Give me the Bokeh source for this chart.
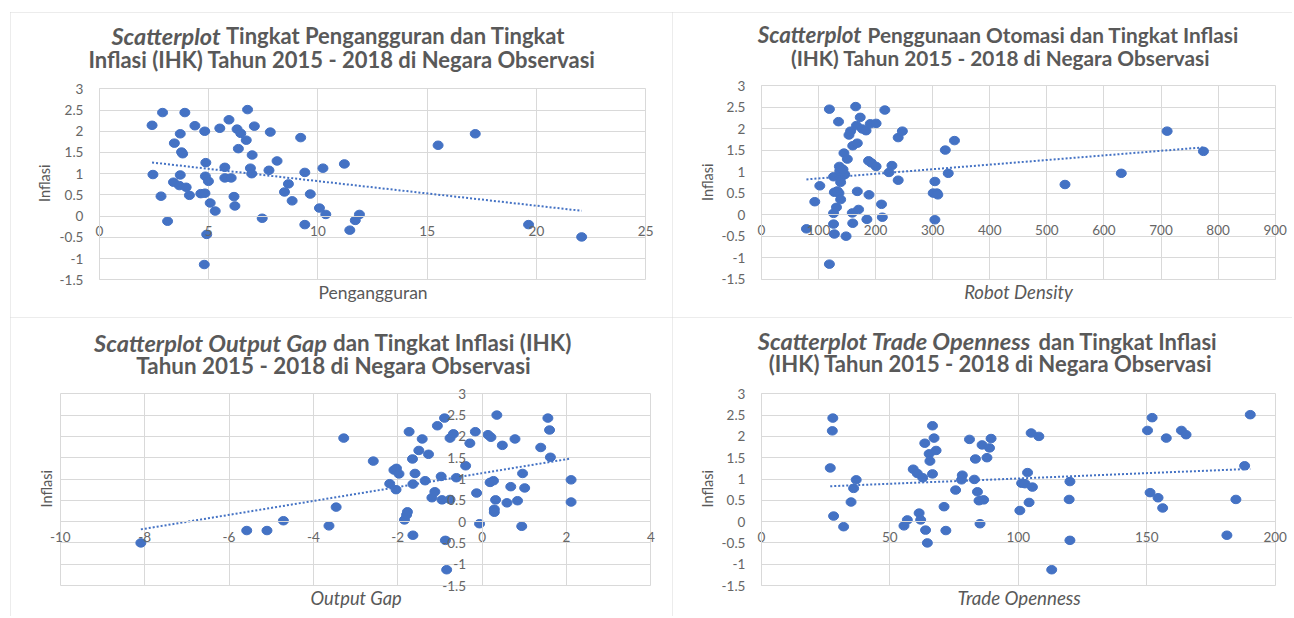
import math
import numpy as np
from bokeh.plotting import figure
from bokeh.models import Label, SingleIntervalTicker, CustomJSTickFormatter, Range1d, Spacer
from bokeh.layouts import row, column
from bokeh.embed import file_html
from bokeh.resources import INLINE

# ---------------- data ----------------
unemployment = [2.41, 2.89, 3.91, 2.45, 2.82, 3.12, 3.43, 3.70, 3.76, 3.81,
                3.70, 3.39, 3.66, 3.97, 4.12, 4.37, 4.82, 4.87, 4.85, 4.99,
                4.64, 4.83, 4.91, 4.80, 5.07, 5.30, 5.51, 5.93, 5.74, 5.74,
                6.03, 6.16, 6.20, 6.30, 6.47, 6.36, 6.78, 6.72, 7.09, 6.99,
                6.91, 6.97, 7.45, 7.82, 7.76, 8.13, 8.65, 8.47, 8.82, 9.21,
                9.40, 9.40, 9.65, 10.07, 10.23, 10.36, 11.21, 11.46, 11.71, 11.90,
                15.50, 17.20, 19.64, 22.07]
inflation_unemp = [2.14, 2.44, 2.44, 0.98, 0.47, -0.12, 1.72, 1.94, 1.51, 1.47,
                   0.97, 0.80, 0.72, 0.68, 0.49, 2.13, 2.00, 1.26, 0.94, 0.82,
                   0.53, 0.54, -0.43, -1.14, 0.31, 0.12, 2.07, 2.27, 1.15, 0.90,
                   0.90, 0.46, 0.24, 2.05, 1.95, 1.59, 2.51, 1.79, 2.12, 1.44,
                   1.13, 1.00, -0.05, 1.98, 1.08, 1.30, 0.76, 0.57, 0.36, 1.85,
                   1.03, -0.20, 0.52, 0.19, 1.13, 0.04, 1.23, -0.33, -0.10, 0.04,
                   1.67, 1.94, -0.20, -0.49]

robot_density = [78.9, 93.5, 102.3, 119.1, 119.1, 126.4, 127.8, 126.4, 126.4, 127.8,
                 131.5, 135.1, 136.6, 137.3, 135.9, 138.8, 138.8, 141.0, 146.1, 144.6,
                 150.5, 153.4, 156.3, 148.3, 160.0, 168.0, 159.2, 160.0, 165.1, 166.5,
                 168.0, 170.2, 173.1, 176.8, 183.3, 184.8, 188.5, 187.7, 190.7, 192.8,
                 200.9, 200.9, 211.8, 210.4, 216.2, 223.5, 228.6, 239.6, 239.6, 246.9,
                 300.9, 303.9, 303.9, 307.5, 309.0, 322.1, 327.3, 338.2, 531.8, 630.4,
                 710.7, 774.3, 143.0, 133.0]
inflation_robot = [-0.33, 0.30, 0.67, 2.45, -1.15, 0.88, 0.52, 0.03, -0.22, -0.45,
                   0.17, 2.16, 1.12, 1.02, 0.50, 0.75, 0.35, 0.89, 0.93, 1.43,
                   1.29, 1.85, 1.94, -0.50, 1.60, 1.66, 0.04, -0.20, 2.51, 2.07,
                   0.54, 0.12, 2.26, 1.99, 1.95, -0.11, 0.46, 1.25, 2.11, 1.20,
                   2.12, 1.12, -0.06, 0.24, 2.43, 0.98, 1.14, 1.79, 0.80, 1.94,
                   0.50, 0.77, -0.12, 0.50, 0.46, 1.50, 0.96, 1.72, 0.70, 0.96,
                   1.94, 1.47, 1.05, 0.55]

output_gap = [-8.09, -5.58, -5.10, -4.71, -3.63, -3.46, -3.28, -2.58, -2.19, -2.09,
              -2.03, -1.97, -2.04, -1.84, -1.79, -1.77, -1.73, -1.65, -1.64, -1.64,
              -1.59, -1.50, -1.42, -1.35, -1.27, -1.19, -1.12, -1.06, -0.97, -0.95,
              -0.89, -0.87, -0.84, -0.76, -0.76, -0.68, -0.61, -0.39, -0.29, -0.16,
              -0.13, -0.06, 0.14, 0.21, 0.19, 0.27, 0.29, 0.29, 0.32, 0.35,
              0.48, 0.59, 0.68, 0.78, 0.84, 0.94, 0.96, 1.01, 1.39, 1.56,
              1.60, 1.62, 2.11, 2.11]
inflation_gap = [-0.50, -0.21, -0.21, 0.02, -0.10, 0.34, 1.96, 1.42, 0.89, 1.21,
                 1.25, 1.12, 0.75, 0.04, 0.16, 0.23, 2.11, 1.47, 0.88, -0.32,
                 1.13, 1.67, 1.94, 0.96, 1.58, 0.56, 0.70, 2.25, 1.06, 0.51,
                 2.43, -0.44, -1.13, 1.96, 0.52, 2.06, 1.03, 1.31, 1.84, 2.11,
                 0.67, -0.05, 2.04, 1.98, 0.92, 0.96, 0.29, 0.22, 0.51, 2.50,
                 1.79, 0.44, 0.82, 1.94, 0.49, -0.11, 1.13, 0.79, 1.74, 2.43,
                 2.15, 1.51, 0.98, 0.46]

trade_openness = [26.8, 27.8, 27.6, 28.1, 32.0, 34.9, 35.9, 36.9, 55.5, 56.8,
                  61.4, 62.0, 59.1, 60.7, 62.8, 63.6, 63.9, 64.6, 65.3, 65.6,
                  66.6, 66.6, 67.2, 68.0, 71.1, 71.8, 75.6, 77.9, 78.2, 81.0,
                  82.9, 83.3, 84.1, 84.7, 85.1, 85.9, 86.5, 87.8, 88.8, 89.4,
                  100.6, 101.3, 102.6, 103.6, 104.2, 105.0, 105.5, 108.0, 113.0, 120.1,
                  119.8, 120.1, 150.3, 152.1, 151.3, 154.4, 156.2, 157.6, 163.5, 165.3,
                  181.2, 184.7, 188.1, 190.3]
inflation_trade = [1.26, 2.43, 2.13, 0.13, -0.12, 0.46, 0.78, 0.98, -0.10, 0.04,
                   0.20, 0.04, 1.23, 1.13, 1.03, 1.84, -0.20, -0.50, 1.59, 1.42,
                   2.25, 1.12, 1.96, 1.67, 0.35, -0.21, 0.74, 0.98, 1.09, 1.93,
                   0.99, 1.47, 0.70, 0.49, -0.05, 1.80, 0.51, 1.50, 1.73, 1.95,
                   0.26, 0.90, 0.89, 1.15, 0.45, 2.08, 0.81, 2.00, -1.13, 0.94,
                   0.52, -0.44, 2.14, 2.44, 0.68, 0.56, 0.32, 1.96, 2.14, 2.04,
                   -0.32, 0.52, 1.31, 2.51]

Y_MIN, Y_MAX = -1.5, 3.0

# ---------------- style ----------------
FONT = "Lato"
TXT = "#595959"
TICK_TXT = "#666666"
GRID = "#d9d9d9"
BLUE = "#4472C4"
TICK_SIZE = "13.5px"
YT_SIZE = "14.5px"

fmt = CustomJSTickFormatter(code="return String(Math.round(tick*10)/10);")


def label(p, x, y, text, size, style="normal", align="center", angle=0.0, color=TXT):
    p.add_layout(Label(x=x, y=y, x_units="screen", y_units="screen", text=text,
                       text_font=FONT, text_font_size=size, text_font_style=style,
                       text_color=color, text_align=align, text_baseline="middle",
                       angle=angle))


def panel(xs, ys, xr, xint, W, H, box, title_it, title_rest, title2, tpos, sizes,
          xlabel, xl_style, xl_pos, yl_pos):
    # box: plot-area pixel box inside the figure (left, right, top, bottom)
    L, R, T, B = box
    x0, x1 = xr
    kx = (x1 - x0) / (R - L)
    ky = (Y_MAX - Y_MIN) / (B - T)
    xrange = Range1d(x0 - L * kx, x1 + (W - R) * kx)
    yrange = Range1d(Y_MIN - (H - B) * ky, Y_MAX + T * ky)
    p = figure(frame_width=W, frame_height=H,
               min_border_left=0, min_border_right=0,
               min_border_top=0, min_border_bottom=0,
               x_range=xrange, y_range=yrange,
               toolbar_location=None, output_backend="svg",
               background_fill_color="white", border_fill_color="white",
               outline_line_color=None)
    p.styles = {"outline": "1px solid #d9d9d9", "outline-offset": "-1px"}
    p.xaxis.ticker = SingleIntervalTicker(interval=xint)
    p.yaxis.ticker = SingleIntervalTicker(interval=0.5)
    p.xaxis.fixed_location = 0
    p.yaxis.fixed_location = 0
    p.xaxis.bounds = (x0, x1)
    p.yaxis.bounds = (Y_MIN, Y_MAX)
    for ax in (p.xaxis, p.yaxis):
        ax.formatter = fmt
        ax.axis_line_color = GRID
        ax.major_tick_line_color = None
        ax.minor_tick_line_color = None
        ax.major_label_text_font = FONT
        ax.major_label_text_font_size = TICK_SIZE
        ax.major_label_text_color = TICK_TXT
    p.xaxis.major_label_standoff = 4
    p.yaxis.major_label_standoff = 10
    p.xgrid.grid_line_color = GRID
    p.ygrid.grid_line_color = GRID
    p.xgrid.bounds = (x0, x1)
    p.xgrid.cross_bounds = (Y_MIN, Y_MAX)
    p.ygrid.bounds = (Y_MIN, Y_MAX)
    p.ygrid.cross_bounds = (x0, x1)

    p.ellipse(x=xs, y=ys, width=10, height=8.5, width_units="screen",
              height_units="screen", fill_color=BLUE, line_color=BLUE)
    m, b = np.polyfit(xs, ys, 1)
    tx = [min(xs), max(xs)]
    p.line(tx, [m * v + b for v in tx], line_color=BLUE, line_width=2,
           line_dash="2 2")

    (split_it, split_rest, y1, cx2, y2) = tpos
    it_size, rom_size, ax_size = sizes
    label(p, split_it, y1, title_it, it_size, "bold italic", "right")
    label(p, split_rest, y1, title_rest, rom_size, "bold", "left")
    label(p, cx2, y2, title2, rom_size, "bold", "center")
    label(p, xl_pos[0], xl_pos[1], xlabel, ax_size, xl_style, "center")
    label(p, yl_pos[0], yl_pos[1], "Inflasi", YT_SIZE, "normal", "center",
          angle=math.pi / 2)
    return p


p1 = panel(unemployment, inflation_unemp, (0, 25), 5, 662, 305,
           (88.9, 635.2, 76.3, 267.3),
           "Scatterplot", "Tingkat Pengangguran dan Tingkat",
           "Inflasi (IHK) Tahun 2015 - 2018 di Negara Observasi",
           (210, 215.5, 282, 331.5, 257.7), ("23.5px", "22px", "17.5px"),
           "Pengangguran", "normal", (362.5, 25.3), (34.2, 134.3))

p2 = panel(robot_density, inflation_robot, (0, 900), 100, 620, 305,
           (88.9, 602.7, 73.0, 266.7),
           "Scatterplot", "Penggunaan Otomasi dan Tingkat Inflasi",
           "(IHK) Tahun 2015 - 2018 di Negara Observasi",
           (189, 195, 282.7, 328, 260.3), ("22.4px", "20.8px", "18.5px"),
           "Robot Density", "italic", (346, 25.3), (34.7, 135.3))

p3 = panel(output_gap, inflation_gap, (-10, 4), 2, 662, 299,
           (49.8, 640.3, 76.3, 268.0),
           "Scatterplot Output Gap", "dan Tingkat Inflasi (IHK)",
           "Tahun 2015 - 2018 di Negara Observasi",
           (316.5, 322.5, 273.7, 323, 251), ("23.5px", "22.4px", "18.3px"),
           "Output Gap", "italic", (345.6, 18.7), (36.3, 127.7))

p4 = panel(trade_openness, inflation_trade, (0, 200), 50, 620, 299,
           (88.9, 602.7, 76.3, 268.0),
           "Scatterplot Trade Openness", "dan Tingkat Inflasi",
           "(IHK) Tahun 2015 - 2018 di Negara Observasi",
           (358.5, 366, 275.3, 318, 252.7), ("23.6px", "22px", "18.7px"),
           "Trade Openness", "italic", (346.6, 18.7), (34.7, 127.7))

layout = column(Spacer(width=10, height=12),
                row(Spacer(width=10, height=10), p1, p2),
                row(Spacer(width=10, height=10), p3, p4))

open("out.html", "w").write(file_html(layout, INLINE))
